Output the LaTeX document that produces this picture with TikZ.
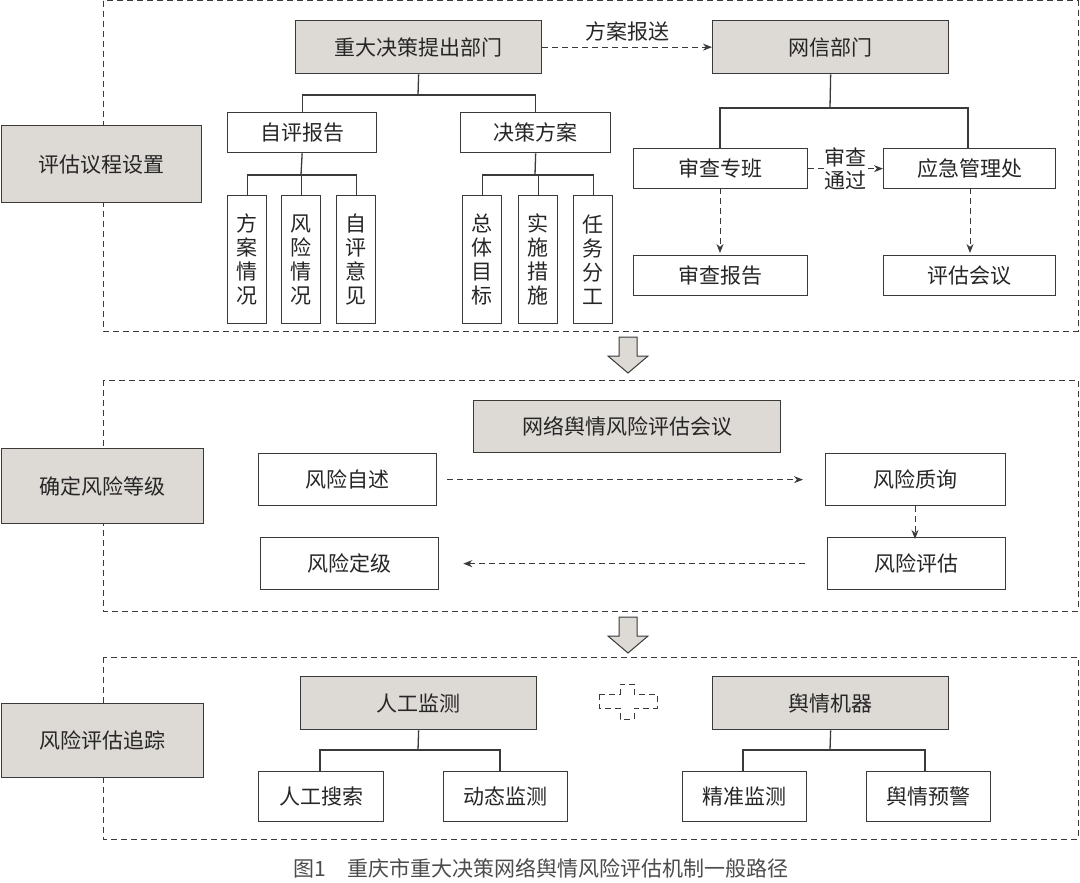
\documentclass[tikz,border=0pt]{standalone}
\usepackage{fontspec}
\setmainfont{Noto Sans CJK SC}
\usetikzlibrary{arrows.meta}
\definecolor{ln}{HTML}{3A3A3A}
\definecolor{gf}{HTML}{DDD9D5}
\begin{document}
\begin{tikzpicture}[x=1pt,y=-1pt,
  bx/.style={draw=ln,line width=1.3pt,font=\fontsize{21}{25}\selectfont,text=black!85},
  gbx/.style={bx,fill=gf},
  sect/.style={draw=ln,line width=1pt,dash pattern=on 6pt off 4pt},
  dar/.style={draw=ln,line width=1pt,dash pattern=on 6pt off 4pt,-{Stealth[length=9pt,width=7pt]}},
  tr/.style={draw=ln,line width=1.3pt}]
\useasboundingbox (0,0) rectangle (1080,883);
\fill[white] (0,0) rectangle (1080,883);
% sections
\draw[sect] (103,1) rectangle (1078,331);
\draw[sect] (103,380) rectangle (1078,611);
\draw[sect] (103,657) rectangle (1078,839);
% section 1
\node[gbx,minimum width=200,minimum height=77,anchor=north west] (l1) at (1,125) {评估议程设置};
\node[gbx,minimum width=246,minimum height=53,anchor=north west] (zd) at (295,20) {重大决策提出部门};
\node[gbx,minimum width=236,minimum height=53,anchor=north west] (wx) at (712,20) {网信部门};
\draw[dar] (zd.east) -- node[above=2pt,font=\fontsize{21}{25}\selectfont,text=black!85] (fa) {方案报送} (wx.west);
\node[bx,minimum width=149,minimum height=40,anchor=north west] (zp) at (227,112) {自评报告};
\node[bx,minimum width=150,minimum height=40,anchor=north west] (jc) at (460,112) {决策方案};
\draw[tr] (zd.south) -- (418,95) coordinate (t1); \draw[tr] (zp.north) |- (t1) -| (jc.north);
\foreach \x/\t/\n in {227/{方\\案\\情\\况}/a1,281/{风\\险\\情\\况}/a2,336/{自\\评\\意\\见}/a3,462/{总\\体\\目\\标}/b1,518/{实\\施\\措\\施}/b2,573/{任\\务\\分\\工}/b3}{
  \node[bx,minimum width=39,minimum height=128,text width=22pt,anchor=north west,align=center,inner sep=0pt,font=\fontsize{21}{24}\selectfont] (\n) at (\x,195) {\t};}
\draw[tr] (zp.south) -- (301,175) coordinate (t2); \draw[tr] (a1.north) |- (t2) -| (a3.north); \draw[tr] (a2.north) -- (a2.north|-t2);
\draw[tr] (jc.south) -- (535,175) coordinate (t3); \draw[tr] (b1.north) |- (t3) -| (b3.north); \draw[tr] (b2.north) -- (b2.north|-t3);
\node[bx,minimum width=174,minimum height=40,anchor=north west] (sc) at (633,148) {审查专班};
\node[bx,minimum width=172,minimum height=40,anchor=north west] (yj) at (883,148) {应急管理处};
\draw[tr] (wx.south) -- (830,108) coordinate (t4); \draw[tr] (720,148) |- (t4) -| (968,148);
\draw[dar] (sc.east) -- node[font=\fontsize{21}{23}\selectfont,align=center,text=black!85,fill=white,inner sep=1pt] (tg) {审查\\通过} (yj.west);
\node[bx,minimum width=174,minimum height=40,anchor=north west] (sb) at (633,255) {审查报告};
\node[bx,minimum width=172,minimum height=40,anchor=north west] (ph) at (883,255) {评估会议};
\draw[dar] (720,188) -- (720,253);
\draw[dar] (970,188) -- (970,253);
% block arrows
\foreach \y in {337,617}{\draw[ln,line width=1pt,fill=gf] (619,\y) -- (637,\y) -- (637,\y+19) -- (648,\y+19) -- (628,\y+36) -- (608,\y+19) -- (619,\y+19) -- cycle;}
% section 2
\node[gbx,minimum width=202,minimum height=75,anchor=north west] (l2) at (1,448) {确定风险等级};
\node[gbx,minimum width=307,minimum height=52,anchor=north west] (hy) at (473,400) {网络舆情风险评估会议};
\node[bx,minimum width=178,minimum height=52,anchor=north west] (zs) at (258,453) {风险自述};
\node[bx,minimum width=180,minimum height=52,anchor=north west] (zx) at (825,453) {风险质询};
\node[bx,minimum width=178,minimum height=52,anchor=north west] (pg) at (827,537) {风险评估};
\node[bx,minimum width=178,minimum height=52,anchor=north west] (dj) at (260,537) {风险定级};
\draw[dar] ([xshift=10pt]zs.east) -- ([xshift=-22pt]zx.west);
\draw[dar] (zx.south-|915,0) -- ([yshift=-2pt]pg.north-|915,0);
\draw[dar] ([xshift=-22pt]pg.west) -- ([xshift=24pt]dj.east);
% section 3
\node[gbx,minimum width=202,minimum height=74,anchor=north west] (l3) at (1,703) {风险评估追踪};
\node[gbx,minimum width=236,minimum height=53,anchor=north west] (rg) at (300,676) {人工监测};
\node[gbx,minimum width=236,minimum height=53,anchor=north west] (yq) at (712,676) {舆情机器};
\node[bx,minimum width=125,minimum height=50,anchor=north west] (ss) at (258,771) {人工搜索};
\node[bx,minimum width=124,minimum height=50,anchor=north west] (dt) at (443,771) {动态监测};
\node[bx,minimum width=124,minimum height=50,anchor=north west] (jz) at (682,771) {精准监测};
\node[bx,minimum width=124,minimum height=50,anchor=north west] (yjw) at (866,771) {舆情预警};
\draw[tr] (rg.south) -- (418,750) coordinate (t5); \draw[tr] (320,771) |- (t5) -| (500,771);
\draw[tr] (yq.south) -- (830,750) coordinate (t6); \draw[tr] (743,771) |- (t6) -| (925,771);
\draw[ln,line width=1pt,dash pattern=on 6pt off 4pt] (599,694) -- (620,694) -- (620,684) -- (634,684) -- (634,694) -- (657,694) -- (657,708) -- (634,708) -- (634,719) -- (620,719) -- (620,708) -- (599,708) -- cycle;
\node[font=\fontsize{21}{25}\selectfont,text=black!70] (cap) at (541,868) {图1\quad 重庆市重大决策网络舆情风险评估机制一般路径};
\end{tikzpicture}
\end{document}
